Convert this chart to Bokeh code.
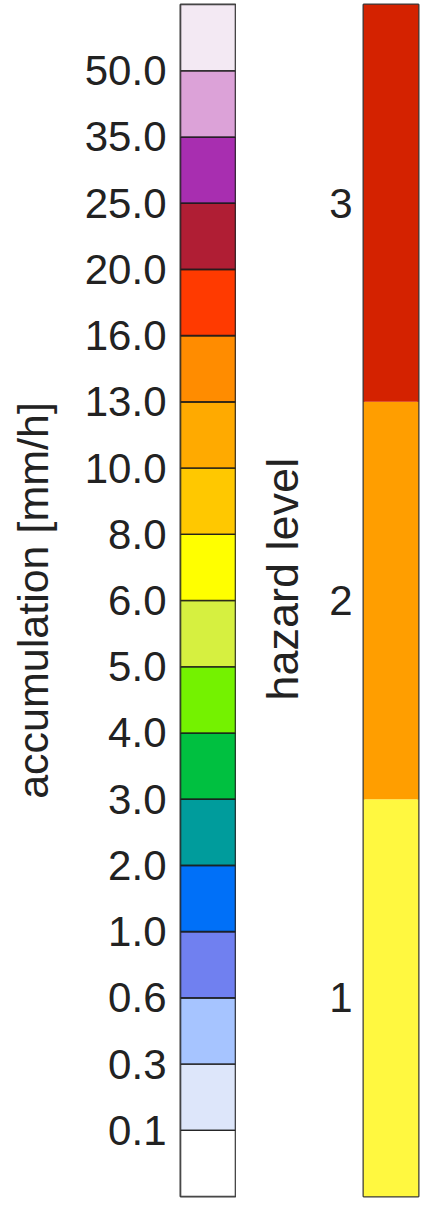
from bokeh.plotting import figure
from bokeh.layouts import row
from bokeh.models import FixedTicker, ColumnDataSource, Title
from bokeh.embed import file_html
from bokeh.resources import INLINE

# ---- data ----
accum_bounds = [0.1, 0.3, 0.6, 1.0, 2.0, 3.0, 4.0, 5.0, 6.0, 8.0,
                10.0, 13.0, 16.0, 20.0, 25.0, 35.0, 50.0]
# bin colours, bottom (< 0.1) to top (> 50.0)
accum_colors = ["#FFFFFF", "#DDE6FA", "#A6C4FF", "#7080F0", "#0070F8",
                "#009C9C", "#00C040", "#74F200", "#D6F040", "#FFFF00",
                "#FFC800", "#FFAA00", "#FF8C00", "#FF3A00", "#B01E34",
                "#A82EB0", "#DCA2D8", "#F3E9F3"]
hazard_levels = [1, 2, 3]
hazard_colors = ["#FFF840", "#FF9E00", "#D42200"]

FONT = "Liberation Sans"
TICK_FS = "42px"
TITLE_FS = "43px"
HZ_TITLE_FS = "45px"
TXT = "#222222"

H = 1200

# ---- accumulation colour bar ----
n = len(accum_colors)
src1 = ColumnDataSource(dict(bottom=list(range(n)), top=[i + 1 for i in range(n)],
                             color=accum_colors))
p1 = figure(width=236, height=H, x_range=(0, 1), y_range=(0, n),
            x_axis_location=None, output_backend="svg", toolbar_location=None,
            min_border_left=180, min_border_right=1, min_border_top=4,
            min_border_bottom=4)
p1.quad(left=0, right=1, bottom="bottom", top="top", fill_color="color",
        line_color="#1a1a1a", line_alpha=0.85, line_width=1.6, source=src1)
p1.grid.visible = False
p1.outline_line_color = "#3a3a3a"
p1.outline_line_width = 2
ax = p1.yaxis[0]
ax.ticker = FixedTicker(ticks=list(range(1, n)))
ax.major_label_overrides = {i + 1: f"{v:.1f}" for i, v in enumerate(accum_bounds)}
ax.axis_label = "accumulation [mm/h]"
ax.axis_line_color = None
ax.major_tick_line_color = None
ax.minor_tick_line_color = None
ax.major_tick_out = 0
ax.major_tick_in = 0
ax.major_label_standoff = 14
ax.axis_label_standoff = 25
ax.major_label_text_font = FONT
ax.major_label_text_font_size = TICK_FS
ax.major_label_text_color = TXT
ax.axis_label_text_font = FONT
ax.axis_label_text_font_size = TITLE_FS
ax.axis_label_text_font_style = "normal"
ax.axis_label_text_color = TXT

# ---- hazard colour bar ----
m = len(hazard_levels)
src2 = ColumnDataSource(dict(bottom=list(range(m)), top=[i + 1 for i in range(m)],
                             color=hazard_colors))
p2 = figure(width=184, height=H, x_range=(0, 1), y_range=(0, m),
            x_axis_location=None, output_backend="svg", toolbar_location=None,
            min_border_left=127, min_border_right=2, min_border_top=4,
            min_border_bottom=4)
p2.quad(left=0, right=1, bottom="bottom", top="top", fill_color="color",
        line_color=None, source=src2)
p2.grid.visible = False
p2.outline_line_color = "#3a3a3a"
p2.outline_line_width = 2
bx = p2.yaxis[0]
bx.ticker = FixedTicker(ticks=[i + 0.5 for i in range(m)])
bx.major_label_overrides = {i + 0.5: str(v) for i, v in enumerate(hazard_levels)}
bx.axis_line_color = None
bx.major_tick_line_color = None
bx.minor_tick_line_color = None
bx.major_tick_out = 0
bx.major_tick_in = 0
bx.major_label_standoff = 11
bx.major_label_text_font = FONT
bx.major_label_text_font_size = TICK_FS
bx.major_label_text_color = TXT

# axis title of the hazard bar (sits slightly above the bar's centre)
hz_title = Title(text="hazard level", align="left", offset=496, standoff=37,
                 text_font=FONT, text_font_size=HZ_TITLE_FS,
                 text_font_style="normal", text_color=TXT)
p2.add_layout(hz_title, "left")

layout = row(p1, p2, spacing=0)
open("out.html", "w").write(file_html(layout, INLINE))
